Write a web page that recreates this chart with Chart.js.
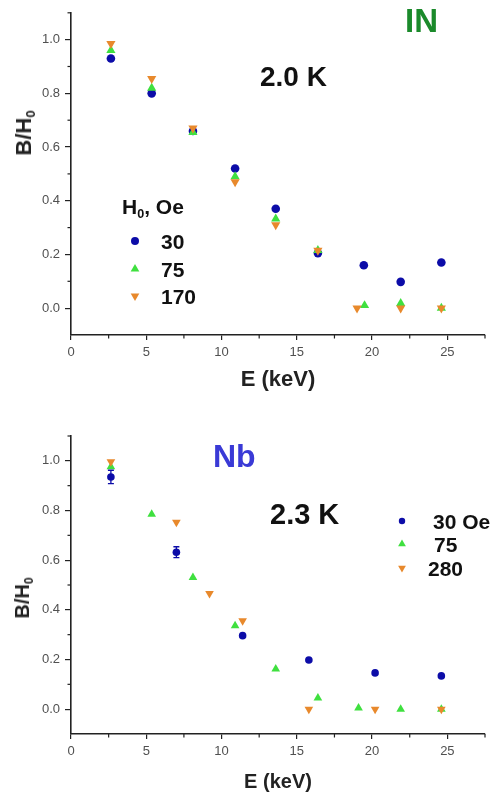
<!DOCTYPE html>
<html><head><meta charset="utf-8">
<script src="https://cdn.jsdelivr.net/npm/chart.js@4.4.1/dist/chart.umd.min.js"></script>
<style>
html,body{margin:0;padding:0;background:#fff}
body{width:495px;height:796px;position:relative;overflow:hidden;font-family:"Liberation Sans",Arial,sans-serif}
.box{position:absolute;left:0;width:495px}
canvas{display:block}
.t{position:absolute;white-space:nowrap;font-weight:bold;line-height:1;color:#111}
.t sub{font-size:60%;vertical-align:baseline;position:relative;top:0.3em}
.yt{position:absolute;white-space:nowrap;font-weight:bold;line-height:1;color:#222;transform:translate(-50%,-50%) rotate(-90deg)}
.yt sub{font-size:60%;vertical-align:baseline;position:relative;top:0.3em}
</style></head>
<body>
<div class="box" style="top:0;height:400px"><canvas id="c1" width="495" height="400"></canvas></div>
<div class="box" style="top:400px;height:396px"><canvas id="c2" width="495" height="396"></canvas></div>

<div class="t" style="left:405px;top:4px;font-size:33px;color:#1b8a2b">IN</div>
<div class="t" style="left:260px;top:63px;font-size:28px">2.0 K</div>
<div class="t" style="left:122px;top:196px;font-size:21px">H<sub>0</sub>, Oe</div>
<div class="t" style="left:161px;top:231px;font-size:21px">30</div>
<div class="t" style="left:161px;top:259px;font-size:21px">75</div>
<div class="t" style="left:161px;top:286px;font-size:21px">170</div>
<div class="yt" style="left:24px;top:133px;font-size:22px">B/H<sub>0</sub></div>

<div class="t" style="left:213px;top:440px;font-size:32px;color:#3a3ad6">Nb</div>
<div class="t" style="left:270px;top:500px;font-size:29px">2.3 K</div>
<div class="t" style="left:433px;top:511px;font-size:21px">30 Oe</div>
<div class="t" style="left:434px;top:534px;font-size:21px">75</div>
<div class="t" style="left:428px;top:558px;font-size:21px">280</div>
<div class="yt" style="left:22px;top:598px;font-size:20px">B/H<sub>0</sub></div>

<script>
// ---- data ----
const xTicks = [0, 5, 10, 15, 20, 25];
const xMinor = [2.5, 7.5, 12.5, 17.5, 22.5, 27.5];
const yTicks = [0.0, 0.2, 0.4, 0.6, 0.8, 1.0];
const yMinor = [0.1, 0.3, 0.5, 0.7, 0.9, 1.1];

// IN, 2.0 K
const energyIN30  = [2.65, 5.36, 8.1, 10.9, 13.6, 16.4, 19.45, 21.9, 24.6];
const bIN30       = [0.93, 0.80, 0.66, 0.52, 0.37, 0.205, 0.16, 0.098, 0.17];
const energyIN75  = [2.65, 5.36, 8.1, 10.9, 13.6, 16.4, 19.5, 21.9, 24.6];
const bIN75       = [0.96, 0.82, 0.655, 0.49, 0.333, 0.215, 0.01, 0.018, 0.0];
const energyIN170 = [2.65, 5.36, 8.1, 10.9, 13.6, 16.4, 19.0, 21.9, 24.6];
const bIN170      = [0.985, 0.855, 0.67, 0.47, 0.31, 0.215, 0.0, 0.0, 0.0];

// Nb, 2.3 K
const energyNb30  = [2.65, 7.0, 11.4, 15.8, 20.2, 24.6];
const bNb30       = [0.935, 0.632, 0.296, 0.198, 0.146, 0.134];
const errNb30     = [0.027, 0.022, 0, 0, 0, 0];
const energyNb75  = [2.65, 5.36, 8.1, 10.9, 13.6, 16.4, 19.1, 21.9, 24.6];
const bNb75       = [0.976, 0.785, 0.53, 0.336, 0.162, 0.045, 0.005, 0.0, 0.0];
const energyNb280 = [2.65, 7.0, 9.2, 11.4, 15.8, 20.2, 24.6];
const bNb280      = [0.996, 0.753, 0.466, 0.356, 0.0, 0.0, 0.0];

const BLUE = '#0c0ca8', GREEN = '#3fe03f', ORANGE = '#e8892c';
const FONT = '"Liberation Sans", Arial, sans-serif';

function pts(xs, ys) { return xs.map((x, i) => ({x: x, y: ys[i]})); }

function series(label, xs, ys, color, style, r, order, err) {
  return {
    label: label, data: pts(xs, ys), err: err || null,
    backgroundColor: color, borderColor: color, borderWidth: 0,
    pointStyle: style === 'down' ? 'triangle' : style, pointRadius: r,
    pointRotation: style === 'down' ? 180 : 0,
    order: order
  };
}

const minorTicks = {
  id: 'minorTicks',
  afterDraw(chart) {
    const {ctx, scales: {x, y}} = chart;
    ctx.save();
    ctx.strokeStyle = '#222'; ctx.lineWidth = 1.2;
    xMinor.forEach(v => { const p = x.getPixelForValue(v); ctx.beginPath(); ctx.moveTo(p, x.top); ctx.lineTo(p, x.top + 3.5); ctx.stroke(); });
    yMinor.forEach(v => { const p = y.getPixelForValue(v); ctx.beginPath(); ctx.moveTo(y.right, p); ctx.lineTo(y.right - 3.5, p); ctx.stroke(); });
    ctx.restore();
  }
};
const errorBars = {
  id: 'errorBars',
  afterDatasetsDraw(chart) {
    const {ctx, scales: {x, y}} = chart;
    chart.data.datasets.forEach(ds => {
      if (!ds.err) return;
      ctx.save(); ctx.strokeStyle = ds.borderColor; ctx.lineWidth = 1.3;
      ds.data.forEach((p, i) => {
        const e = ds.err[i]; if (!e) return;
        const px = x.getPixelForValue(p.x), y1 = y.getPixelForValue(p.y - e), y2 = y.getPixelForValue(p.y + e);
        ctx.beginPath(); ctx.moveTo(px, y1); ctx.lineTo(px, y2);
        ctx.moveTo(px - 3, y1); ctx.lineTo(px + 3, y1);
        ctx.moveTo(px - 3, y2); ctx.lineTo(px + 3, y2); ctx.stroke();
      });
      ctx.restore();
    });
  }
};
function legendMarkers(items) {
  return {
    id: 'legendMarkers',
    afterDraw(chart) {
      const ctx = chart.ctx;
      items.forEach(it => {
        ctx.save(); ctx.fillStyle = it.color; ctx.strokeStyle = it.color;
        Chart.helpers.drawPoint(ctx, {pointStyle: it.style, radius: it.r, rotation: it.rot || 0, borderWidth: 0}, it.x, it.y);
        ctx.restore();
      });
    }
  };
}

function makeChart(id, datasets, o, extra) {
  return new Chart(document.getElementById(id), {
    type: 'scatter',
    data: {datasets: datasets},
    options: {
      responsive: false, animation: false, devicePixelRatio: 1,
      layout: {padding: {top: o.padTop, right: 10, left: 0, bottom: 0}},
      plugins: {legend: {display: false}, tooltip: {enabled: false}},
      scales: {
        x: {
          type: 'linear', min: 0, max: 27.5,
          afterBuildTicks: s => { s.ticks = xTicks.map(v => ({value: v})); },
          afterFit: s => { s.height = o.xHeight; },
          border: {display: true, color: '#222', width: 1.6},
          grid: {drawOnChartArea: false, drawTicks: true, tickLength: 5, color: '#222', lineWidth: 1.2},
          ticks: {color: '#505050', font: {family: FONT, size: 13}, padding: 5, maxRotation: 0, callback: v => String(v)},
          title: {display: true, text: 'E (keV)', color: '#222', font: {family: FONT, size: o.xtSize, weight: 'bold'}, padding: {top: 0, bottom: o.xtPad}}
        },
        y: {
          type: 'linear', min: -0.1, max: 1.1,
          afterBuildTicks: s => { s.ticks = yTicks.map(v => ({value: v})); },
          afterFit: s => { s.width = 71; },
          border: {display: true, color: '#222', width: 1.6},
          grid: {drawOnChartArea: false, drawTicks: true, tickLength: 6, color: '#222', lineWidth: 1.2},
          ticks: {color: '#505050', font: {family: FONT, size: 13}, padding: 5, callback: v => Number(v).toFixed(1)}
        }
      }
    },
    plugins: [minorTicks, errorBars, extra]
  });
}

makeChart('c1', [
  series('30', energyIN30, bIN30, BLUE, 'circle', 4.3, 2),
  series('75', energyIN75, bIN75, GREEN, 'triangle', 5.3, 1),
  series('170', energyIN170, bIN170, ORANGE, 'down', 5.3, 0)
], {padTop: 3, xHeight: 65, xtSize: 22, xtPad: 7}, legendMarkers([
  {x: 135, y: 241, color: BLUE, style: 'circle', r: 4},
  {x: 135, y: 269, color: GREEN, style: 'triangle', r: 5},
  {x: 135, y: 296, color: ORANGE, style: 'triangle', r: 5, rot: 180}
]));

makeChart('c2', [
  series('30 Oe', energyNb30, bNb30, BLUE, 'circle', 3.8, 2, errNb30),
  series('75', energyNb75, bNb75, GREEN, 'triangle', 5, 1),
  series('280', energyNb280, bNb280, ORANGE, 'down', 5, 0)
], {padTop: 36, xHeight: 62, xtSize: 20, xtPad: 2}, legendMarkers([
  {x: 402, y: 121, color: BLUE, style: 'circle', r: 3.2},
  {x: 402, y: 144, color: GREEN, style: 'triangle', r: 4.5},
  {x: 402, y: 168, color: ORANGE, style: 'triangle', r: 4.5, rot: 180}
]));
</script>
</body></html>
